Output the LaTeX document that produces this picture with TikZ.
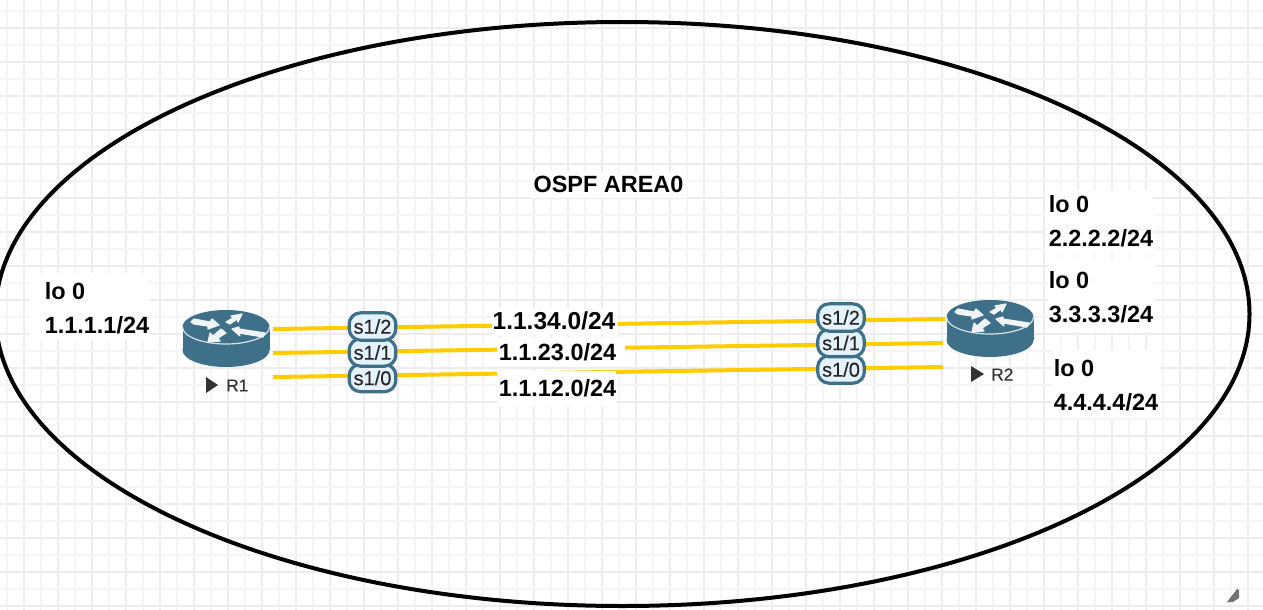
\documentclass[tikz,border=0pt]{standalone}
\usepackage{fontspec}
\usetikzlibrary{shapes.geometric}
\setmainfont{Liberation Sans}
\newfontfamily\semibold[FakeBold=0.35]{Liberation Sans}
\definecolor{routerblue}{HTML}{3F7089}
\definecolor{portfill}{HTML}{E4F2FD}
\definecolor{linkgold}{HTML}{FFCC00}
\definecolor{gridmajor}{HTML}{EDEDF0}
\definecolor{gridminor}{HTML}{F5F5F7}
\tikzset{
  x=0.75pt,y=-0.75pt,
  gridmaj/.style={draw=gridmajor,line width=1.2pt},
  gridmin/.style={draw=gridminor,line width=1.2pt},
  area/.style={draw=black,line width=3pt},
  link/.style={draw=linkgold,line width=3pt},
  port/.style={draw=routerblue,fill=portfill,line width=2.4pt,rounded corners=8.5pt,
    minimum width=35pt,minimum height=20.5pt,inner sep=0pt,font=\semibold\fontsize{15}{16}\selectfont,text=black!85},
  big/.style={font=\bfseries\fontsize{17.6}{25.5}\selectfont,text=black},
  net/.style={big,inner sep=0pt},
  lo/.style={big,align=left,inner sep=0pt,anchor=north west},
  mask/.style={fill=white},
  rname/.style={font=\semibold\fontsize{13}{15}\selectfont,text=black!80,inner sep=0pt,anchor=west},
  playmark/.style={fill=black!80},
  routerbody/.style={fill=routerblue},
  routerarrow/.style={fill=white!92!routerblue,draw=white!92!routerblue,line width=0.9pt,line join=round},
}
\newcommand{\routerglyph}[2]{%
  \begin{scope}[shift={(#1,#2)}]
    \fill[routerbody] (0,0) ellipse[x radius=43.5,y radius=17];
    \fill[routerbody] (0,23) ellipse[x radius=43.5,y radius=17];
    \fill[routerbody] (-43.5,0) rectangle (43.5,23);
    \draw[white!80!routerblue,line width=0.9pt] (-43.5,0) arc[start angle=180,end angle=0,x radius=43.5,y radius=17];
    \filldraw[routerarrow] (-35,-5) -- (-32,-8) -- (-16,-5) -- (-14,-8) -- (-7,-2) -- (-18,2) -- (-18,-1) -- (-32,-3) -- cycle;
    \filldraw[routerarrow] (0,-5) -- (7,-9) -- (5,-11) -- (16,-13) -- (12,-5) -- (11,-8) -- (4,-3) -- cycle;
    \filldraw[routerarrow] (-5,2) -- (0,6) -- (-8,11) -- (-6,14) -- (-18,15) -- (-16,6) -- (-13,9) -- cycle;
    \filldraw[routerarrow] (6,2) -- (13,0) -- (13,2) -- (39,6) -- (37,10) -- (13,6) -- (14,9) -- cycle;
  \end{scope}}
\begin{document}
\begin{tikzpicture}
\useasboundingbox (0,0) rectangle (1263,610);
\clip (0,0) rectangle (1263,610);
\fill[white] (0,0) rectangle (1263,610);
% grid
\foreach \k in {0,...,74}{
  \pgfmathtruncatemacro{\gx}{7+17*\k}
  \pgfmathtruncatemacro{\odd}{mod(\k,2)}
  \ifnum\odd=0 \draw[gridmin] (\gx,0) -- (\gx,610); \else \draw[gridmaj] (\gx,0) -- (\gx,610); \fi
}
\foreach \k in {0,...,35}{
  \pgfmathtruncatemacro{\gy}{11+17.0*\k}
  \pgfmathtruncatemacro{\odd}{mod(\k,2)}
  \ifnum\odd=0 \draw[gridmin] (0,\gy) -- (1263,\gy); \else \draw[gridmaj] (0,\gy) -- (1263,\gy); \fi
}
% OSPF area
\node[area,ellipse,minimum width=940.5pt,minimum height=438pt,inner sep=0pt] (areaz) at (622.5,314) {};
% routers
\routerglyph{226}{327}
\routerglyph{990}{317}
\coordinate (r1a) at (273,329);
\coordinate (r1b) at (273,353);
\coordinate (r1c) at (273,377);
\coordinate (r2a) at (945,319);
\coordinate (r2b) at (943,343);
\coordinate (r2c) at (943,367);
\draw[link] (r1a) -- (r2a);
\draw[link] (r1b) -- (r2b);
\draw[link] (r1c) -- (r2c);
% white patches behind labels
\fill[mask] (492,308) rectangle (618,335);
\fill[mask] (497,338) rectangle (625,367);
\fill[mask] (497,371) rectangle (616,406);
\fill[mask] (530,172) rectangle (687,198);
\fill[mask] (30,273) rectangle (149,340);
\fill[mask] (1045,190) rectangle (1153,255);
\fill[mask] (1048,257) rectangle (1155,332);
\fill[mask] (1052,350) rectangle (1160,418);
% ports
\node[port] (p10) at (372.5,378) {s1/0};
\node[port] (p11) at (372.5,352.5) {s1/1};
\node[port] (p12) at (372.5,326.5) {s1/2};
\node[port] (q10) at (841,369.5) {s1/0};
\node[port] (q11) at (841,343) {s1/1};
\node[port] (q12) at (841,317.5) {s1/2};
% network labels
\node[net,font=\bfseries\fontsize{18.4}{25.5}\selectfont] (n34) at (554,321) {1.1.34.0/24};
\node[net] (n23) at (557.5,352) {1.1.23.0/24};
\node[net] (n12) at (557.5,388) {1.1.12.0/24};
\node[net] (title) at (608.5,184) {OSPF AREA0};
% loopback labels
\node[lo] (l1) at (44.5,282) {lo 0\\1.1.1.1/24};
\node[lo] (l2) at (1048.5,195) {lo 0\\2.2.2.2/24};
\node[lo] (l3) at (1048.5,271.5) {lo 0\\3.3.3.3/24};
\node[lo] (l4) at (1053.5,359) {lo 0\\4.4.4.4/24};
% router names
\fill[playmark] (206,377) -- (218,385) -- (206,393) -- cycle;
\node[rname] (r1name) at (226,385.5) {R1};
\fill[playmark] (971,366) -- (984,374) -- (971,382) -- cycle;
\node[rname] (r2name) at (991,374.5) {R2};
% resize handle
\fill[black!55] (1227,602) -- (1237,589) -- (1239,590) -- (1239,598) -- (1233,602) -- cycle;
\end{tikzpicture}
\end{document}
